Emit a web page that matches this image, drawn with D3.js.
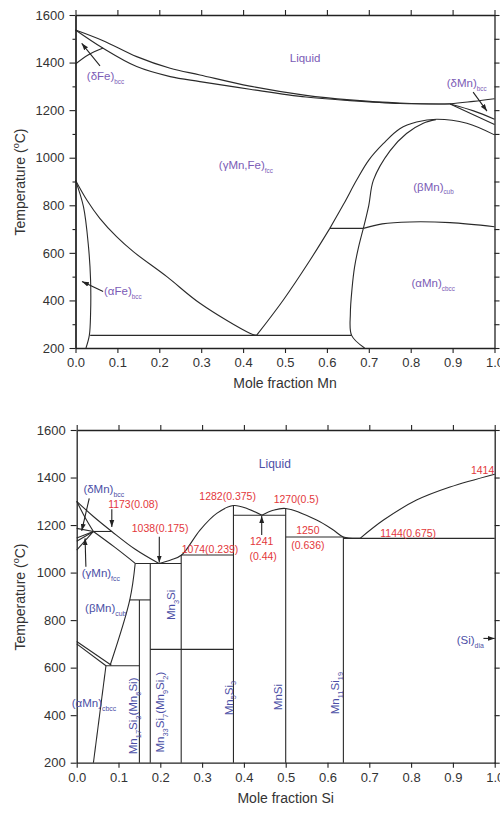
<!DOCTYPE html>
<html>
<head>
<meta charset="utf-8">
<script src="https://cdn.jsdelivr.net/npm/d3@7"></script>
<style>
  body { margin: 0; background: #fff; }
  svg { display: block; }
  text { font-family: "Liberation Sans", Arial, Helvetica, sans-serif; }
</style>
</head>
<body>
<svg id="chart" width="500" height="814"></svg>
<script>
// ---------- shared axis values ----------
const tempTicks = [200, 400, 600, 800, 1000, 1200, 1400, 1600];
const tempMinorTicks = [300, 500, 700, 900, 1100, 1300, 1500];
const tempRightTicksTop = [200, 300, 400, 500, 600, 700, 800, 900, 1000, 1100, 1200, 1300, 1400, 1500, 1600];
const fracTicks = [0, 0.1, 0.2, 0.3, 0.4, 0.5, 0.6, 0.7, 0.8, 0.9, 1.0];

// ---------- Fe–Mn phase boundaries [mole fraction Mn, °C] ----------
const feMnLiquidus = [[0, 1537], [0.066, 1492], [0.146, 1425], [0.226, 1376], [0.297, 1348], [0.416, 1301],
  [0.55, 1262], [0.655, 1243], [0.774, 1230], [0.894, 1227], [0.95, 1237], [1.0, 1248]];
const feMnSolidus = [[0, 1537], [0.066, 1460], [0.146, 1383], [0.226, 1341], [0.297, 1320], [0.416, 1288],
  [0.55, 1255], [0.655, 1240], [0.774, 1228], [0.894, 1226]];
const feDeltaGamma = [[0, 1394], [0.03, 1432], [0.066, 1461]];
const mnDeltaUpper = [[0.894, 1226], [0.95, 1197], [1.0, 1162]];
const mnDeltaLower = [[0.894, 1226], [1.0, 1140]];
const betaMnOuter = [[0.607, 703], [0.64, 805], [0.671, 906], [0.70, 990], [0.735, 1060], [0.774, 1122],
  [0.814, 1150], [0.862, 1162], [0.934, 1145], [1.0, 1096]];
const betaMnInner = [[0.687, 703], [0.70, 800], [0.711, 906], [0.751, 1030], [0.79, 1102], [0.83, 1145], [0.86, 1160]];
const alphaBetaMn = [[0.687, 703], [0.732, 722], [0.798, 730], [0.894, 727], [1.0, 710]];
const alphaMnSolvus = [[0.687, 703], [0.675, 620], [0.666, 540], [0.66, 450], [0.656, 346], [0.659, 253], [0.69, 200]];
const gammaAlphaFe = [[0, 905], [0.027, 822], [0.058, 745], [0.098, 668], [0.138, 605], [0.218, 500],
  [0.297, 388], [0.416, 262], [0.432, 253]];
const alphaFeSolvus = [[0, 905], [0.019, 794], [0.031, 626], [0.036, 486], [0.036, 346], [0.033, 253], [0.025, 200]];
const gammaAlphaMn = [[0.432, 253], [0.496, 402], [0.56, 570], [0.607, 703]];
const feMnEutectoid = [[0.035, 253], [0.659, 253]];
const betaMnEutectoid = [[0.607, 703], [0.687, 703]];

// ---------- Mn–Si phase boundaries [mole fraction Si, °C] ----------
const mnSiLiquidusA = [[0, 1300], [0.04, 1236], [0.084, 1173], [0.14, 1098], [0.197, 1038]];
const mnSiLiquidusB = [[0.197, 1038], [0.225, 1053], [0.251, 1074], [0.295, 1179], [0.335, 1249], [0.375, 1282],
  [0.41, 1268], [0.443, 1241]];
const mnSiLiquidusC = [[0.443, 1241], [0.47, 1262], [0.5, 1270], [0.574, 1221], [0.614, 1179], [0.638, 1150],
  [0.678, 1144]];
const mnSiLiquidusD = [[0.678, 1144], [0.734, 1221], [0.813, 1305], [0.893, 1360], [1.0, 1414]];
const mnDeltaSolidus = [[0, 1300], [0.02, 1232], [0.04, 1173]];
const mnLowSolvi = [
  [[0, 1186], [0.04, 1173]],
  [[0, 1146], [0.04, 1173]],
  [[0, 1132], [0.04, 1173]],
  [[0, 1095], [0.04, 1173]]
];
const mnBetaSolidus = [[0.04, 1173], [0.09, 1108], [0.14, 1039]];
const mnBetaSolvus = [[0.14, 1039], [0.127, 885], [0.08, 610]];
const mnAlphaBetaUpper = [[0, 710], [0.083, 610]];
const mnAlphaBetaLower = [[0, 700], [0.07, 608]];
const mnAlphaSolvus = [[0.07, 608], [0.04, 200]];
const mnSiIsotherms = [
  [[0.04, 1173], [0.084, 1173]],
  [[0.14, 1038], [0.25, 1038]],
  [[0.25, 1074], [0.375, 1074]],
  [[0.375, 1241], [0.5, 1241]],
  [[0.5, 1150], [0.638, 1150]],
  [[0.638, 1144], [1.0, 1144]],
  [[0.127, 885], [0.176, 885]],
  [[0.07, 608], [0.15, 608]],
  [[0.176, 677], [0.375, 677]]
];
// compounds: [mole fraction Si, top temperature]
const compounds = [[0.15, 885], [0.176, 1038], [0.25, 1074], [0.375, 1282], [0.5, 1270], [0.638, 1150]];

// ---------- drawing ----------
const svg = d3.select("#chart");
const ink = "#222";
const purple = "#7b5cb6";
const blue = "#4c4fa6";
const red = "#e3373b";

const defs = svg.append("defs");
defs.append("marker").attr("id", "arrow").attr("viewBox", "0 0 10 10")
  .attr("refX", 10).attr("refY", 5).attr("markerWidth", 7).attr("markerHeight", 7)
  .attr("markerUnits", "userSpaceOnUse").attr("orient", "auto")
  .append("path").attr("d", "M0,1.5L10,5L0,8.5Z").attr("fill", ink);

function richText(g, x, y, parts, opt) {
  const size = opt.size;
  const t = g.append("text")
    .attr("transform", `translate(${x},${y})` + (opt.rotate ? ` rotate(${opt.rotate})` : ""))
    .attr("text-anchor", opt.anchor || "start")
    .attr("fill", opt.color)
    .attr("font-size", size);
  let shift = 0;
  parts.forEach(p => {
    const [s, kind] = typeof p === "string" ? [p, "n"] : p;
    const target = kind === "sub" ? size * 0.32 : kind === "sup" ? -size * 0.42 : 0;
    t.append("tspan")
      .attr("dy", target - shift)
      .attr("font-size", kind === "n" ? size : size * (opt.subScale || 0.62))
      .text(s);
    shift = target;
  });
  return t;
}

function frame(g, x, y, rightTicks, withMinor) {
  const styleAxis = sel => {
    sel.selectAll(".domain").attr("stroke", ink).attr("stroke-width", 1.3);
    sel.selectAll(".tick line").attr("stroke", ink).attr("stroke-width", 1.1);
    sel.selectAll(".tick text").attr("fill", "#333").attr("font-size", 13)
      .attr("font-family", "'Liberation Sans', Arial, sans-serif");
  };
  const [x0, x1] = x.range();
  const [y0, y1] = y.range();
  g.append("g").attr("transform", `translate(${x0},0)`)
    .call(d3.axisLeft(y).tickValues(tempTicks).tickSize(6).tickSizeOuter(0).tickPadding(5)
      .tickFormat(d3.format("d")))
    .call(styleAxis);
  if (withMinor) {
    g.append("g").attr("transform", `translate(${x0},0)`)
      .call(d3.axisLeft(y).tickValues(tempMinorTicks).tickSize(3).tickSizeOuter(0).tickFormat(""))
      .call(styleAxis);
  }
  g.append("g").attr("transform", `translate(0,${y0})`)
    .call(d3.axisBottom(x).tickValues(fracTicks).tickSize(5).tickSizeOuter(0).tickPadding(5)
      .tickFormat(d3.format(".1f")))
    .call(styleAxis);
  g.append("g").attr("transform", `translate(0,${y1})`)
    .call(d3.axisTop(x).tickValues(fracTicks).tickSize(5).tickSizeOuter(0).tickFormat(""))
    .call(styleAxis);
  g.append("g").attr("transform", `translate(${x1},0)`)
    .call(d3.axisRight(y).tickValues(rightTicks).tickSize(5).tickSizeOuter(0).tickFormat(""))
    .call(styleAxis);
}

function axisTitles(g, x, y, xTitle, yCenter) {
  const [x0, x1] = x.range();
  g.append("text").attr("x", (x0 + x1) / 2).attr("y", y.range()[0] + 40)
    .attr("text-anchor", "middle").attr("font-size", 14).attr("fill", "#333").text(xTitle);
  richText(g, 25, yCenter, ["Temperature (", ["o", "sup"], "C)"],
    { size: 14, color: "#333", anchor: "middle", rotate: -90, subScale: 0.65 });
}

function curveDrawer(g, x, y) {
  const smooth = d3.line().x(d => x(d[0])).y(d => y(d[1])).curve(d3.curveCatmullRom.alpha(0.5));
  return pts => g.append("path").attr("d", smooth(pts)).attr("fill", "none")
    .attr("stroke", "#2a2a2a").attr("stroke-width", 1.1);
}

function arrow(g, x, y, from, to) {
  g.append("line").attr("x1", x(from[0])).attr("y1", y(from[1]))
    .attr("x2", x(to[0])).attr("y2", y(to[1]))
    .attr("stroke", ink).attr("stroke-width", 1.1).attr("marker-end", "url(#arrow)");
}

// ===== Fe–Mn =====
{
  const x = d3.scaleLinear().domain([0, 1]).range([75.5, 494.5]);
  const y = d3.scaleLinear().domain([200, 1600]).range([348, 15]);
  const g = svg.append("g");
  const draw = curveDrawer(g, x, y);
  [feMnLiquidus, feMnSolidus, feDeltaGamma, mnDeltaUpper, mnDeltaLower, betaMnOuter, betaMnInner,
    alphaBetaMn, alphaMnSolvus, gammaAlphaFe, alphaFeSolvus, gammaAlphaMn, feMnEutectoid, betaMnEutectoid]
    .forEach(draw);
  frame(g, x, y, tempRightTicksTop, true);
  axisTitles(g, x, y, "Mole fraction Mn", 182);

  const lab = { size: 11.5, color: purple, subScale: 0.55 };
  richText(g, x(0.548), y(1402), ["Liquid"], { ...lab, anchor: "middle" });
  richText(g, x(0.027), y(1326), ["(δFe)", ["bcc", "sub"]], lab);
  richText(g, x(0.342), y(953), ["(γMn,Fe)", ["fcc", "sub"]], lab);
  richText(g, x(0.806), y(862), ["(βMn)", ["cub", "sub"]], lab);
  richText(g, x(0.802), y(457), ["(αMn)", ["cbcc", "sub"]], lab);
  richText(g, x(0.886), y(1297), ["(δMn)", ["bcc", "sub"]], lab);
  richText(g, x(0.068), y(421), ["(αFe)", ["bcc", "sub"]], lab);

  arrow(g, x, y, [0.0585, 1386], [0.0148, 1481]);
  arrow(g, x, y, [0.066, 438], [0.0155, 480]);
  arrow(g, x, y, [0.949, 1276], [0.982, 1196]);
}

// ===== Mn–Si =====
{
  const x = d3.scaleLinear().domain([0, 1]).range([76.7, 494.7]);
  const y = d3.scaleLinear().domain([200, 1600]).range([762.7, 430]);
  const g = svg.append("g");
  const draw = curveDrawer(g, x, y);
  [mnSiLiquidusA, mnSiLiquidusB, mnSiLiquidusC, mnSiLiquidusD, mnDeltaSolidus, mnBetaSolidus,
    mnBetaSolvus, mnAlphaBetaUpper, mnAlphaBetaLower, mnAlphaSolvus].forEach(draw);
  mnLowSolvi.forEach(draw);
  mnSiIsotherms.forEach(draw);
  compounds.forEach(([c, t]) => draw([[c, t], [c, 200]]));
  frame(g, x, y, tempTicks, false);
  axisTitles(g, x, y, "Mole fraction Si", 597);

  const lab = { size: 11.5, color: blue, subScale: 0.6 };
  richText(g, x(0.474), y(1442), ["Liquid"], { ...lab, anchor: "middle", size: 12 });
  richText(g, x(0.016), y(1334), ["(δMn)", ["bcc", "sub"]], lab);
  richText(g, x(0.012), y(981), ["(γMn)", ["fcc", "sub"]], lab);
  richText(g, x(0.02), y(834), ["(βMn)", ["cub", "sub"]], lab);
  richText(g, x(-0.012), y(434), ["(αMn)", ["cbcc", "sub"]], lab);
  richText(g, x(0.909), y(700), ["(Si)", ["dia", "sub"]], lab);

  const rot = { ...lab, anchor: "middle", rotate: -90, subScale: 0.65 };
  richText(g, x(0.145), y(397), ["Mn", ["17", "sub"], "Si", ["3", "sub"], "(Mn", ["6", "sub"], "Si)"], rot);
  richText(g, x(0.209), y(413), ["Mn", ["33", "sub"], "Si", ["7", "sub"], "(Mn", ["9", "sub"], "Si", ["2", "sub"], ")"], rot);
  richText(g, x(0.235), y(864), ["Mn", ["3", "sub"], "Si"], rot);
  richText(g, x(0.373), y(472), ["Mn", ["5", "sub"], "Si", ["3", "sub"]], rot);
  richText(g, x(0.492), y(476), ["MnSi"], rot);
  richText(g, x(0.628), y(493), ["Mn", ["11", "sub"], "Si", ["19", "sub"]], rot);

  const note = { size: 10.5, color: red, anchor: "middle" };
  richText(g, x(0.135), y(1272), ["1173(0.08)"], note);
  richText(g, x(0.1995), y(1171), ["1038(0.175)"], note);
  richText(g, x(0.319), y(1082), ["1074(0.239)"], note);
  richText(g, x(0.361), y(1305), ["1282(0.375)"], note);
  richText(g, x(0.525), y(1293), ["1270(0.5)"], note);
  richText(g, x(0.4426), y(1114), ["1241"], note);
  richText(g, x(0.446), y(1055), ["(0.44)"], note);
  richText(g, x(0.553), y(1162), ["1250"], note);
  richText(g, x(0.553), y(1099), ["(0.636)"], note);
  richText(g, x(0.793), y(1150), ["1144(0.675)"], note);
  richText(g, x(0.971), y(1413), ["1414"], note);

  arrow(g, x, y, [0.084, 1266], [0.084, 1192]);
  arrow(g, x, y, [0.1976, 1151], [0.1976, 1042]);
  arrow(g, x, y, [0.4426, 1158], [0.4426, 1238]);
  arrow(g, x, y, [0.030, 1312], [0.012, 1176]);
  arrow(g, x, y, [0.022, 1025], [0.02, 1144]);
  arrow(g, x, y, [0.973, 723], [1.0, 723]);
}
</script>
</body>
</html>
